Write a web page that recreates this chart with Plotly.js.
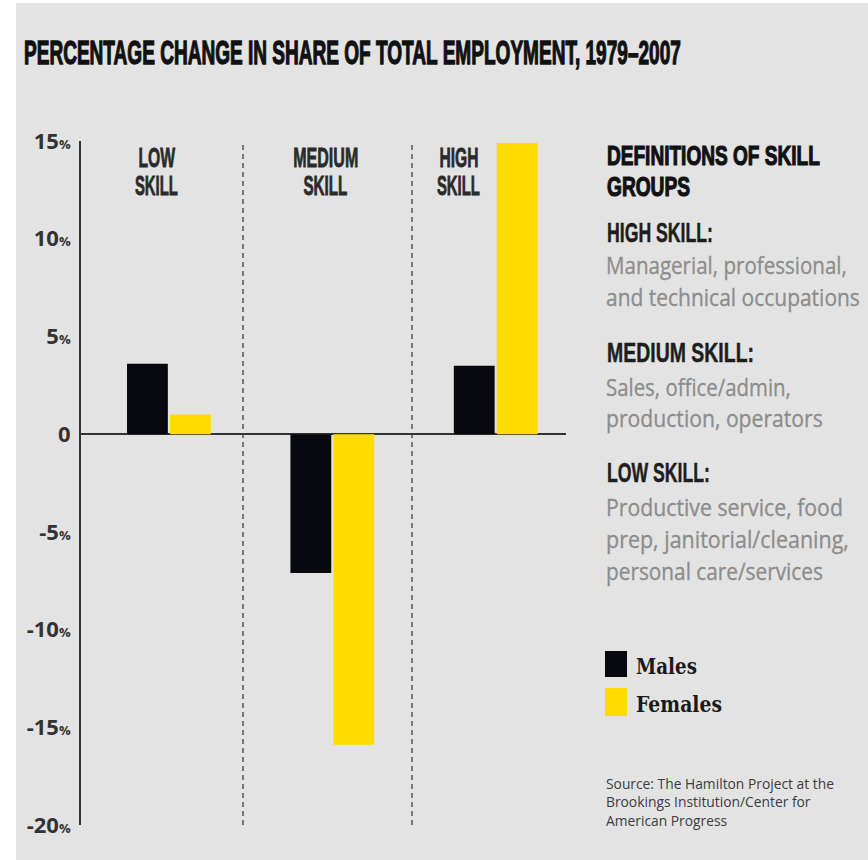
<!DOCTYPE html>
<html>
<head>
<meta charset="utf-8">
<script src="https://cdn.plot.ly/plotly-3.0.1.min.js"></script>
<style>
  html, body { margin: 0; padding: 0; background: #ffffff; width: 868px; height: 860px; overflow: hidden; }
  #chart { position: absolute; left: 16px; top: 3px; width: 852px; height: 857px; }
</style>
</head>
<body>
<div id="chart"></div>
<script>
// ---------------- DATA ----------------
const categories = ['Low skill', 'Medium skill', 'High skill'];
const males = [3.6, -7.1, 3.5];
const females = [1.0, -15.9, 14.9];
const seriesNames = ['Males', 'Females'];
const yTickVals = [15, 10, 5, 0, -5, -10, -15, -20];
const yTickLabels = ['15%', '10%', '5%', '0', '-5%', '-10%', '-15%', '-20%'];
const yMarkVals = [10, 5, -5, -10, -15];
const groupLabels = [['LOW', 'SKILL'], ['MEDIUM', 'SKILL'], ['HIGH', 'SKILL']];
const titleText = 'PERCENTAGE CHANGE IN SHARE OF TOTAL EMPLOYMENT, 1979–2007';
const defHeading = ['DEFINITIONS OF SKILL', 'GROUPS'];
const defGroups = [
  { head: 'HIGH SKILL:', lines: ['Managerial, professional,', 'and technical occupations'] },
  { head: 'MEDIUM SKILL:', lines: ['Sales, office/admin,', 'production, operators'] },
  { head: 'LOW SKILL:', lines: ['Productive service, food', 'prep, janitorial/cleaning,', 'personal care/services'] }
];
const sourceLines = ['Source: The Hamilton Project at the', 'Brookings Institution/Center for', 'American Progress'];

// ---------------- STYLE / LAYOUT ----------------
const COL_M = '#08080f', COL_F = '#ffdc00', BG = '#e3e3e3';
const PL = 81, PW = 485, PT = 141, PH = 684; // page-pixel plot box
const px = X => (X - PL) / PW;
const py = Y => (PT + PH - Y) / PH;
const HEAD = 'Liberation Sans, Arial, sans-serif';
const BODY = 'Open Sans, sans-serif';

const anns = [], fx = [];
function T(text, x, y, o) {
  anns.push({
    text: text, x: px(x), y: py(y), xref: 'paper', yref: 'paper',
    xanchor: o.anchor || 'left', yanchor: 'middle', showarrow: false, align: 'left',
    font: { family: o.family || HEAD, size: o.size, color: o.color || '#1a1a1a', weight: o.weight || 400 }
  });
  fx.push({ w: o.w || null, stroke: o.stroke || 0, anchor: o.anchor || 'left' });
}

// title
T(titleText, 22, 52, { size: 33, weight: 700, color: '#111', w: 657, stroke: 1.3 });
// group labels above bars
const glX = [156.5, 325.5, 458.5];
const glW = [[37, 43], [65, 44], [39, 43]];
groupLabels.forEach((g, i) => {
  T(g[0], glX[i], 157, { size: 28, weight: 700, color: '#2a2a2a', anchor: 'center', w: glW[i][0], stroke: 0.8 });
  T(g[1], glX[i], 185, { size: 28, weight: 700, color: '#2a2a2a', anchor: 'center', w: glW[i][1], stroke: 0.8 });
});
// definitions panel
T(defHeading[0], 605, 155, { size: 28, weight: 700, color: '#111', w: 213, stroke: 1.2 });
T(defHeading[1], 605, 186, { size: 28, weight: 700, color: '#111', w: 83, stroke: 1.2 });
const headY = [232, 352, 472];
const headW = [106, 147, 103];
const lineY = [[264, 296], [386, 417], [506, 538, 570]];
const lineW = [[241, 254], [185, 217], [237, 243, 217]];
defGroups.forEach((g, i) => {
  T(g.head, 605, headY[i], { size: 28, weight: 700, color: '#1e1e1e', w: headW[i], stroke: 0.5 });
  g.lines.forEach((l, j) => T(l, 604, lineY[i][j], { family: BODY, size: 24, color: '#8c8c8c', w: lineW[i][j], stroke: 0.3 }));
});
// custom legend
T(seriesNames[0], 634, 665, { family: 'DejaVu Serif, serif', size: 23, weight: 700, color: '#1a1a1a', w: 61 });
T(seriesNames[1], 634, 703, { family: 'DejaVu Serif, serif', size: 23, weight: 700, color: '#1a1a1a', w: 86 });
// source (one block, three lines)
T(sourceLines.join('<br>'), 604, 801.5, { family: BODY, size: 14.2, color: '#3c3c3c', w: 228 });

const shapes = [
  { type: 'line', xref: 'paper', yref: 'paper', x0: px(243), x1: px(243), y0: 0, y1: 1,
    line: { color: '#555', width: 1.5, dash: '5px,4px' }, layer: 'below' },
  { type: 'line', xref: 'paper', yref: 'paper', x0: px(412), x1: px(412), y0: 0, y1: 1,
    line: { color: '#555', width: 1.5, dash: '5px,4px' }, layer: 'below' },
  { type: 'rect', xref: 'paper', yref: 'paper', x0: px(605), x1: px(627), y0: py(677), y1: py(651),
    fillcolor: COL_M, line: { width: 0 } },
  { type: 'rect', xref: 'paper', yref: 'paper', x0: px(605), x1: px(627), y0: py(716), y1: py(688),
    fillcolor: COL_F, line: { width: 0 } }
];

const tickText = yTickLabels.map(t => t.endsWith('%') ?
  t.slice(0, -1) + "<span style='font-size:13px'>%</span>" : t);

const data = [
  { type: 'bar', name: seriesNames[0], x: categories, y: males, marker: { color: COL_M }, hoverinfo: 'skip' },
  { type: 'bar', name: seriesNames[1], x: categories, y: females, marker: { color: COL_F }, hoverinfo: 'skip' }
];

const layout = {
  width: 852, height: 857,
  margin: { l: PL - 16, r: 852 - (PL - 16) - PW, t: PT - 3, b: 857 - (PT - 3) - PH, pad: 0 },
  paper_bgcolor: BG, plot_bgcolor: 'rgba(0,0,0,0)',
  showlegend: false,
  barmode: 'group', bargap: 0.474, bargroupgap: 0.05,
  xaxis: { type: 'category', range: [-0.538, 2.43], showticklabels: false, showline: false,
           showgrid: false, zeroline: false, ticks: '', fixedrange: true },
  yaxis: { range: [-20, 15], tickmode: 'array', tickvals: yTickVals, ticktext: tickText,
           ticks: '', showline: true, linecolor: '#333', linewidth: 2,
           zeroline: true, zerolinecolor: '#333', zerolinewidth: 2, showgrid: false,
           ticklabelstandoff: 4,
           tickfont: { family: 'Open Sans, sans-serif', size: 22, color: '#333', weight: 700 },
           fixedrange: true },
  yaxis2: { overlaying: 'y', anchor: 'x', side: 'left', range: [-20, 15], tickmode: 'array',
            tickvals: yMarkVals, ticks: 'inside', ticklen: 12, tickwidth: 2, tickcolor: '#333',
            showticklabels: false, showline: false, zeroline: false, showgrid: false, fixedrange: true },
  annotations: anns,
  shapes: shapes
};

Plotly.newPlot('chart', data, layout, { staticPlot: true, displayModeBar: false }).then(function (gd) {
  fx.forEach(function (f, i) {
    const el = gd.querySelector('.annotation[data-index="' + i + '"] .annotation-text');
    if (!el) return;
    if (f.w) {
      const bb = el.getBBox();
      if (bb.width > 0) {
        const s = f.w / bb.width;
        const ax = f.anchor === 'center' ? bb.x + bb.width / 2 : bb.x;
        el.setAttribute('transform', 'translate(' + ax + ',0) scale(' + s + ',1) translate(' + (-ax) + ',0)');
      }
    }
    if (f.stroke) {
      el.style.stroke = el.style.fill || '#111';
      el.style.strokeWidth = f.stroke + 'px';
    }
  });
});
</script>
</body>
</html>
